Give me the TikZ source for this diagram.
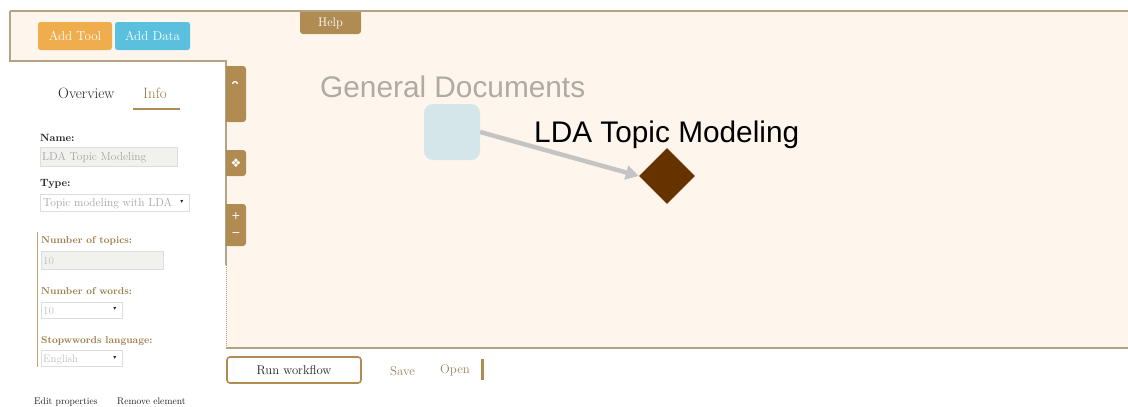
\documentclass[tikz,border=0pt]{standalone}
\usepackage{fontspec}
\newfontfamily\arialf{Liberation Sans}
\newfontfamily\symf{DejaVu Sans}
\usetikzlibrary{arrows.meta,shapes.geometric}
\definecolor{canvasbg}{HTML}{FEF6EC}
\definecolor{frame}{HTML}{B4A382}
\definecolor{accent}{HTML}{B08B52}
\definecolor{orangebtn}{HTML}{F0AD4E}
\definecolor{bluebtn}{HTML}{5BC0DE}
\definecolor{lbl}{HTML}{9C7D48}
\definecolor{darktxt}{HTML}{222222}
\definecolor{ph}{HTML}{A5A5A5}
\definecolor{inbg}{HTML}{F1F1EE}
\definecolor{inbd}{HTML}{DDDDDD}
\definecolor{docblue}{HTML}{D4E6E9}
\definecolor{toolbrown}{HTML}{663300}
\definecolor{edgegray}{HTML}{C4C4C4}
\definecolor{titlegray}{HTML}{AEAAA4}
\definecolor{linktxt}{HTML}{9A8462}
\tikzset{
  fs/.style={font=\fontsize{#1}{#1}\selectfont},
  topbtn/.style={rounded corners=2.5pt, inner sep=0pt, text=white, fs=13},
  tabfill/.style={fill=accent, rounded corners=3pt, inner sep=0pt},
  ui/.style={anchor=base west, inner sep=0pt},
  flabel/.style={ui, font=\fontsize{10}{10}\selectfont\bfseries},
  inputbox/.style={draw=inbd, fill=inbg, line width=0.8pt, inner sep=0pt},
  selectbox/.style={draw=inbd, fill=white, line width=0.8pt, inner sep=0pt},
  intext/.style={ui, text=ph, fs=11.5},
  arrowdown/.style={anchor=center, inner sep=0pt, text=darktxt, font=\symf\fontsize{6}{6}\selectfont},
  bigsans/.style={anchor=base west, inner sep=0pt, font=\arialf\fontsize{29.8}{30}\selectfont},
  flowedge/.style={draw=edgegray, line width=4.5pt, -{Triangle[length=13pt,width=14pt]}},
}
\begin{document}
\begin{tikzpicture}[x=1pt,y=-1pt]
\useasboundingbox (0,0) rectangle (1128,407);
\fill[white] (0,0) rectangle (1128,407);
% canvas background
\fill[canvasbg] (10,11) -- (1128,11) -- (1128,348) -- (226,348) -- (226,61) -- (10,61) -- cycle;
\draw[frame, line width=1.6pt] (10,11) -- (1128,11);
\draw[frame, line width=1.6pt] (226,348) -- (1128,348);
\draw[frame, line width=1.2pt] (10,11) -- (10,61) -- (226,61) -- (226,265);
\draw[frame, line width=1pt, densely dotted] (226,265) -- (226,348);

% top buttons
\node[topbtn, fill=orangebtn, minimum width=74pt, minimum height=28pt] (addtool) at (75,36) {Add Tool};
\node[topbtn, fill=bluebtn, minimum width=75pt, minimum height=28pt] (adddata) at (152.5,36) {Add Data};

% help tab
\fill[accent] (300,12) rectangle (361,22);
\node[tabfill, minimum width=61pt, minimum height=22pt, text=white, fs=12.5] (help) at (330.5,23) {Help};

% side tabs
\fill[accent] (226,66) rectangle (236,122);
\node[tabfill, minimum width=20pt, minimum height=56pt] (tabone) at (236,94) {};
\draw[white, line width=1.3pt, line cap=round] (232.5,83.5) .. controls (234,81) and (236,81) .. (237.5,83.5);
\fill[accent] (226,150) rectangle (236,176);
\node[tabfill, minimum width=20pt, minimum height=26pt, text=white, font=\symf\fontsize{12}{12}\selectfont] (tabtwo) at (236,163) {❖};
\fill[accent] (226,204) rectangle (236,246);
\node[tabfill, minimum width=20pt, minimum height=42pt] (tabthree) at (236,225) {};
\node[text=white, inner sep=0pt, font=\symf\fontsize{11}{11}\selectfont] (plus) at (236,216) {+};
\node[text=white, inner sep=0pt, font=\symf\fontsize{11}{11}\selectfont] (minus) at (236,235) {−};

% panel tabs
\node[ui, text=darktxt, fs=15] (overview) at (58,98) {Overview};
\node[ui, text=lbl, fs=15] (info) at (143,98) {Info};
\draw[accent, line width=2pt] (133,109) -- (180,109);

% form
\node[flabel, text=darktxt, fs=10.5] (namelbl) at (40,141) {\bfseries Name:};
\node[inputbox, minimum width=137pt, minimum height=19pt] (namebox) at (108.5,156.5) {};
\node[intext] (nameval) at (42,160.5) {LDA Topic Modeling};
\node[flabel, text=darktxt, fs=10.5] (typelbl) at (40,186) {\bfseries Type:};
\node[selectbox, minimum width=149pt, minimum height=17pt] (typebox) at (114.5,202.5) {};
\node[intext] (typeval) at (43,206.5) {Topic modeling with LDA};
\node[arrowdown] (typearr) at (182,201.5) {▾};

\draw[accent!80, line width=1pt] (37,232) -- (37,367);

\node[flabel, text=lbl] (topicslbl) at (41,243) {Number of topics:};
\node[inputbox, minimum width=122pt, minimum height=18pt] (topicsbox) at (102,260) {};
\node[intext, text=ph!70, fs=11] (topicsval) at (43,264) {10};

\node[flabel, text=lbl] (wordslbl) at (41,294) {Number of words:};
\node[selectbox, minimum width=81pt, minimum height=16pt] (wordsbox) at (81.5,310) {};
\node[intext, text=ph!70, fs=11] (wordsval) at (43,314) {10};
\node[arrowdown] (wordsarr) at (115,309) {▾};

\node[flabel, text=lbl] (stoplbl) at (41,343) {Stopwwords language:};
\node[selectbox, minimum width=81pt, minimum height=16pt] (stopbox) at (81.5,358.5) {};
\node[intext, text=ph!70, fs=11] (stopval) at (43,362.5) {English};
\node[arrowdown] (stoparr) at (115,357.5) {▾};

\node[ui, text=darktxt, fs=9.6] (editprops) at (34,404) {Edit properties};
\node[ui, text=darktxt, fs=9.6] (removeel) at (117,404) {Remove element};

% bottom toolbar
\node[draw=accent, line width=1.6pt, fill=white, rounded corners=3pt, minimum width=134pt, minimum height=26pt, inner sep=0pt, text=darktxt, fs=12.7] (runwf) at (294,370) {Run workflow};
\node[ui, text=linktxt, fs=12.8] (save) at (390,375) {Save};
\node[ui, text=linktxt, fs=12.8] (open) at (440,373) {Open};
\draw[accent, line width=2.5pt] (482.5,359) -- (482.5,380);

% workflow graph
\node[bigsans, text=titlegray] (gdlabel) at (320,97) {General Documents};
\node[fill=docblue, rounded corners=9pt, minimum width=56pt, minimum height=56pt, inner sep=0pt] (doc) at (452,132) {};
\node[bigsans, text=black] (ldalabel) at (534,142) {LDA Topic Modeling};
\node[fill=toolbrown, diamond, minimum width=56pt, minimum height=56pt, inner sep=0pt] (tool) at (667,176) {};
\draw[flowedge] (doc.east) -- (tool.west);
\end{tikzpicture}
\end{document}
